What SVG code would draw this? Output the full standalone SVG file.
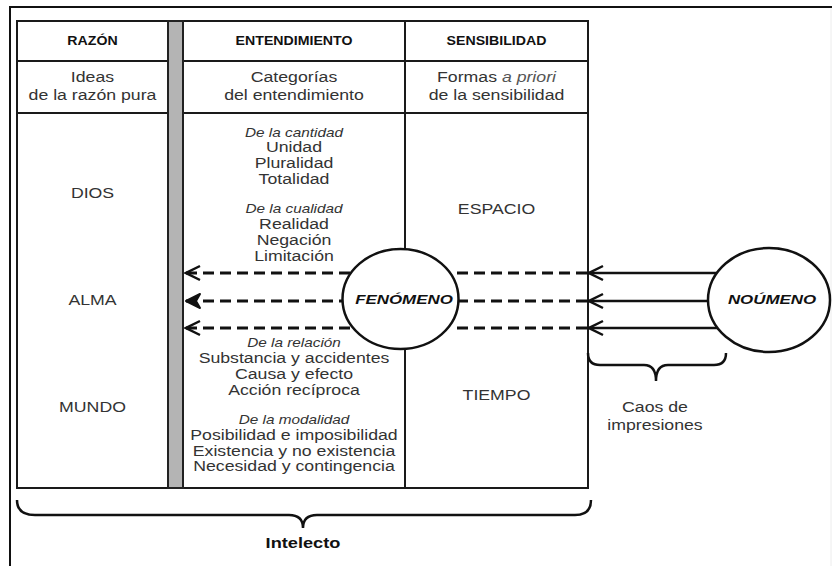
<svg xmlns="http://www.w3.org/2000/svg" width="832" height="566" viewBox="0 0 832 566">
<defs>
<style>
.frame{fill:none;stroke:#111;stroke-width:2}
.grid{fill:none;stroke:#1a1a1a;stroke-width:2}
.bar{fill:#b4b4b4;stroke:#222;stroke-width:2}
.hd{font-family:"Liberation Sans",Arial,sans-serif;font-size:12px;font-weight:bold;fill:#111;text-anchor:middle}
.tx{font-family:"Liberation Sans",Arial,sans-serif;font-size:15px;fill:#333;text-anchor:middle}
.it{font-family:"Liberation Sans",Arial,sans-serif;font-size:13px;font-style:italic;fill:#333;text-anchor:middle}
.big{font-family:"Liberation Sans",Arial,sans-serif;font-size:14px;font-weight:bold;fill:#111;text-anchor:middle}
.cl{font-family:"Liberation Sans",Arial,sans-serif;font-size:13px;font-weight:bold;font-style:italic;fill:#111;text-anchor:middle}
.dash{fill:none;stroke:#111;stroke-width:3;stroke-dasharray:11 6}
.solid{fill:none;stroke:#111;stroke-width:2.5}
.node{fill:#fff;stroke:#111;stroke-width:2.5}
.brace{fill:none;stroke:#111;stroke-width:2.5}
</style>
<marker id="chev" markerUnits="userSpaceOnUse" markerWidth="18" markerHeight="18" viewBox="-2 -2 18 18" refX="14" refY="7" orient="auto">
<path d="M0,0 L14,7 L0,14" fill="none" stroke="#111" stroke-width="2.5"/>
</marker>
<marker id="solidhead" markerUnits="userSpaceOnUse" markerWidth="18" markerHeight="18" viewBox="-2 -2 18 18" refX="14" refY="7" orient="auto">
<path d="M0,0 L14,7 L0,14 L4,7 Z" fill="#111" stroke="#111" stroke-width="2" stroke-linejoin="round"/>
</marker>
</defs>
<rect width="832" height="566" fill="#fff"/>

<g id="frame">
<path class="frame" d="M10,566 L10,7 L832,7"/>
<line x1="831" y1="8" x2="831" y2="566" stroke="#ececec" stroke-width="1"/>
</g>

<g id="table">
<rect class="grid" x="17" y="21" width="571" height="467"/>
<line class="grid" x1="17" y1="61" x2="588" y2="61"/>
<line class="grid" x1="17" y1="113" x2="588" y2="113"/>
<line class="grid" x1="405" y1="21" x2="405" y2="488"/>
<rect class="bar" x="168" y="21" width="15" height="467"/>
</g>

<g id="col-razon" transform="translate(92.5,0) scale(1.18,1)">
<text class="hd" x="0" y="45">RAZÓN</text>
<text class="tx" x="0" y="82">Ideas</text>
<text class="tx" x="0" y="100">de la razón pura</text>
<text class="tx" x="0" y="198">DIOS</text>
<text class="tx" x="0" y="305">ALMA</text>
<text class="tx" x="0" y="412">MUNDO</text>
</g>

<g id="col-entendimiento" transform="translate(294,0) scale(1.18,1)">
<text class="hd" x="0" y="45">ENTENDIMIENTO</text>
<text class="tx" x="0" y="82">Categorías</text>
<text class="tx" x="0" y="100">del entendimiento</text>
<text class="it" x="0" y="137">De la cantidad</text>
<text class="tx" x="0" y="152">Unidad</text>
<text class="tx" x="0" y="168">Pluralidad</text>
<text class="tx" x="0" y="184">Totalidad</text>
<text class="it" x="0" y="213">De la cualidad</text>
<text class="tx" x="0" y="229">Realidad</text>
<text class="tx" x="0" y="245">Negación</text>
<text class="tx" x="0" y="261">Limitación</text>
<text class="it" x="0" y="347">De la relación</text>
<text class="tx" x="0" y="363">Substancia y accidentes</text>
<text class="tx" x="0" y="379">Causa y efecto</text>
<text class="tx" x="0" y="395">Acción recíproca</text>
<text class="it" x="0" y="424">De la modalidad</text>
<text class="tx" x="0" y="440">Posibilidad e imposibilidad</text>
<text class="tx" x="0" y="456">Existencia y no existencia</text>
<text class="tx" x="0" y="471">Necesidad y contingencia</text>
</g>

<g id="col-sensibilidad" transform="translate(496.5,0) scale(1.18,1)">
<text class="hd" x="0" y="45">SENSIBILIDAD</text>
<text class="tx" x="0" y="82">Formas <tspan font-style="italic" fill="#555">a priori</tspan></text>
<text class="tx" x="0" y="100">de la sensibilidad</text>
<text class="tx" x="0" y="214">ESPACIO</text>
<text class="tx" x="0" y="400">TIEMPO</text>
</g>

<g id="connectors">
<line class="dash" x1="350" y1="273" x2="186" y2="273" marker-end="url(#chev)"/>
<line class="dash" x1="350" y1="301" x2="186" y2="301" marker-end="url(#solidhead)"/>
<line class="dash" x1="350" y1="328" x2="186" y2="328" marker-end="url(#chev)"/>
<line class="dash" x1="587" y1="273" x2="452" y2="273"/>
<line class="dash" x1="587" y1="301" x2="452" y2="301"/>
<line class="dash" x1="587" y1="328" x2="452" y2="328"/>
<line class="solid" x1="725" y1="273" x2="589" y2="273" marker-end="url(#chev)"/>
<line class="solid" x1="725" y1="301" x2="589" y2="301" marker-end="url(#chev)"/>
<line class="solid" x1="725" y1="328" x2="589" y2="328" marker-end="url(#chev)"/>
</g>

<g id="fenomeno">
<ellipse class="node" cx="400.5" cy="299" rx="58" ry="50"/>
<text class="cl" transform="translate(404,0) scale(1.3,1)" x="0" y="304">FENÓMENO</text>
</g>

<g id="noumeno">
<ellipse class="node" cx="769" cy="300" rx="61" ry="52"/>
<text class="cl" transform="translate(772,0) scale(1.3,1)" x="0" y="304">NOÚMENO</text>
</g>

<g id="caos">
<path class="brace" d="M588,353 Q588,365 600,365 L644,365 Q656,365 656,381 Q656,365 668,365 L714,365 Q726,365 726,353"/>
<g transform="translate(655,0) scale(1.18,1)">
<text class="tx" x="0" y="412">Caos de</text>
<text class="tx" x="0" y="430">impresiones</text>
</g>
</g>

<g id="intelecto">
<path class="brace" d="M17,500 Q17,515 35,515 L289,515 Q303,515 303,528 Q303,515 317,515 L575,515 Q591,515 591,500"/>
<text class="big" transform="translate(303,0) scale(1.3,1)" x="0" y="548">Intelecto</text>
</g>
</svg>
